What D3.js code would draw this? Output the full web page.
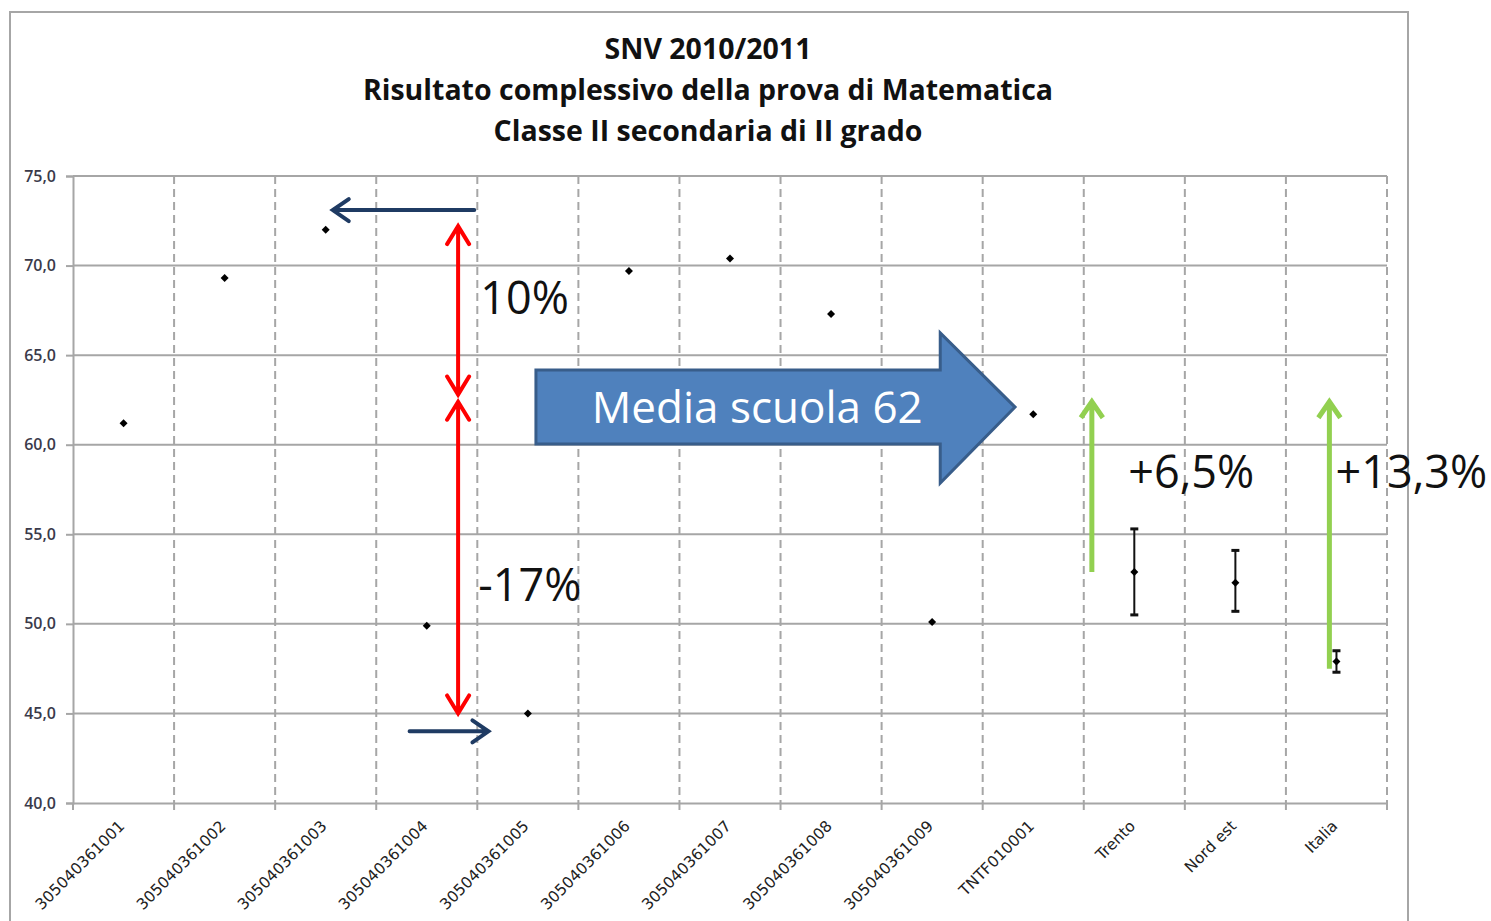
<!DOCTYPE html>
<html>
<head>
<meta charset="utf-8">
<script src="https://cdn.jsdelivr.net/npm/d3@7"></script>
<style>
  body { margin: 0; background: #fff; }
  svg { display: block; }
</style>
</head>
<body>
<svg id="chart"></svg>
<script>
// data
const categories = ["305040361001", "305040361002", "305040361003", "305040361004", "305040361005",
  "305040361006", "305040361007", "305040361008", "305040361009", "TNTF010001", "Trento", "Nord est", "Italia"];
const values = [61.2, 69.3, 72.0, 49.9, 45.0, 69.7, 70.4, 67.3, 50.1, 61.7, 52.9, 52.3, 47.9];
const errLow = [null, null, null, null, null, null, null, null, null, null, 50.5, 50.7, 47.3];
const errHigh = [null, null, null, null, null, null, null, null, null, null, 55.3, 54.1, 48.5];
const yTicks = [40, 45, 50, 55, 60, 65, 70, 75];
const titleLines = ["SNV 2010/2011", "Risultato complessivo della prova di Matematica", "Classe II secondaria di II grado"];

// annotations, x in category units (0..13), y in score units
const navyArrows = [{x1: 3.97, y1: 73.1, x2: 2.57, y2: 73.1}, {x1: 3.33, y1: 44.0, x2: 4.11, y2: 44.0}];
const redArrows = [{x: 3.81, y1: 72.2, y2: 62.8}, {x: 3.81, y1: 62.4, y2: 45.0}];
const greenArrows = [{x: 10.08, y1: 52.9, y2: 62.4}, {x: 12.43, y1: 47.5, y2: 62.4}];
const notes = [
  {text: "10%", x: 4.03, y: 67.3},
  {text: "-17%", x: 4.01, y: 51.3},
  {text: "+6,5%", x: 10.44, y: 57.6},
  {text: "+13,3%", x: 12.49, y: 57.6}
];
const mediaArrow = {x0: 4.58, x1: 8.58, tip: 9.32, top: 64.17, bottom: 60.04, headTop: 66.24, headBottom: 57.86, mid: 62.1};
const mediaLabel = "Media scuola 62";

const W = 1491, H = 921;
const margin = {top: 176, right: 104, bottom: 118, left: 73};

const svg = d3.select("#chart").attr("width", W).attr("height", H);

// outer frame
svg.append("path")
  .attr("d", `M10,${H + 2} L10,12 L1408,12 L1408,${H + 2}`)
  .attr("fill", "none").attr("stroke", "#a6a6a6").attr("stroke-width", 2);

const x = d3.scaleBand().domain(categories).range([margin.left, W - margin.right]);
const xi = d3.scaleLinear().domain([0, categories.length]).range([margin.left, W - margin.right]);
const y = d3.scaleLinear().domain([40, 75]).range([H - margin.bottom, margin.top]);

// title
svg.append("g").selectAll("text").data(titleLines).join("text")
  .attr("x", 708).attr("y", (d, i) => 59 + i * 41)
  .attr("text-anchor", "middle")
  .attr("font-family", "Open Sans").attr("font-weight", "bold").attr("font-size", 28.5)
  .attr("fill", "#111")
  .text(d => d);

// horizontal gridlines
svg.append("g").selectAll("line").data(yTicks.slice(1)).join("line")
  .attr("x1", margin.left).attr("x2", W - margin.right)
  .attr("y1", d => y(d)).attr("y2", d => y(d))
  .attr("stroke", "#a6a6a6").attr("stroke-width", 2);

// vertical dashed gridlines
svg.append("g").selectAll("line").data(categories).join("line")
  .attr("x1", d => x(d) + x.bandwidth()).attr("x2", d => x(d) + x.bandwidth())
  .attr("y1", y(75)).attr("y2", y(40))
  .attr("stroke", "#a6a6a6").attr("stroke-width", 2).attr("stroke-dasharray", "8,5");

// y axis
const yAxis = svg.append("g")
  .attr("transform", `translate(${margin.left},0)`)
  .call(d3.axisLeft(y).tickValues(yTicks).tickSize(7).tickPadding(10)
    .tickFormat(d => d3.format(".1f")(d).replace(".", ",")));
yAxis.selectAll("path, line").attr("stroke", "#a6a6a6").attr("stroke-width", 2);
yAxis.selectAll("text").attr("font-family", "Open Sans").attr("font-size", 16)
  .attr("fill", "#3a3a4a").attr("font-weight", "600");

// x axis
const xAxis = svg.append("g")
  .attr("transform", `translate(0,${y(40)})`)
  .call(d3.axisBottom(x).tickSize(0).tickFormat(""));
xAxis.select("path").attr("stroke", "#a6a6a6").attr("stroke-width", 2);
svg.append("g").selectAll("line").data(d3.range(categories.length + 1)).join("line")
  .attr("x1", d => xi(d)).attr("x2", d => xi(d))
  .attr("y1", y(40)).attr("y2", y(40) + 7)
  .attr("stroke", "#a6a6a6").attr("stroke-width", 2);
svg.append("g").selectAll("text").data(categories).join("text")
  .attr("transform", d => `translate(${x(d) + x.bandwidth() / 2 + 2},${y(40) + 24}) rotate(-45)`)
  .attr("text-anchor", "end")
  .attr("font-family", "DejaVu Sans").attr("font-size", 15.5)
  .attr("fill", "#222")
  .text(d => d);

// error bars
const eb = categories.map((c, i) => ({c, lo: errLow[i], hi: errHigh[i]})).filter(d => d.lo != null);
const ebG = svg.append("g").attr("stroke", "#111").attr("stroke-width", 2);
ebG.selectAll(".v").data(eb).join("line")
  .attr("x1", d => x(d.c) + x.bandwidth() / 2).attr("x2", d => x(d.c) + x.bandwidth() / 2)
  .attr("y1", d => y(d.lo)).attr("y2", d => y(d.hi));
ebG.selectAll(".lo").data(eb).join("line")
  .attr("x1", d => x(d.c) + x.bandwidth() / 2 - 4).attr("x2", d => x(d.c) + x.bandwidth() / 2 + 4)
  .attr("y1", d => y(d.lo)).attr("y2", d => y(d.lo)).attr("stroke-width", 3);
ebG.selectAll(".hi").data(eb).join("line")
  .attr("x1", d => x(d.c) + x.bandwidth() / 2 - 4).attr("x2", d => x(d.c) + x.bandwidth() / 2 + 4)
  .attr("y1", d => y(d.hi)).attr("y2", d => y(d.hi)).attr("stroke-width", 3);

// points (small diamonds)
svg.append("g").selectAll("path").data(categories).join("path")
  .attr("transform", (d, i) => `translate(${x(d) + x.bandwidth() / 2},${y(values[i])})`)
  .attr("d", "M0,-4 L4,0 L0,4 L-4,0 Z")
  .attr("fill", "#000");

// helper: open arrowhead at (px,py) pointing along angle a
function head(px, py, a, len, half) {
  const bx = px - len * Math.cos(a), by = py - len * Math.sin(a);
  const nx = -Math.sin(a) * half, ny = Math.cos(a) * half;
  return `M${bx + nx},${by + ny} L${px},${py} L${bx - nx},${by - ny}`;
}

// navy arrows
const navy = svg.append("g").attr("stroke", "#1f3b63").attr("stroke-width", 4).attr("fill", "none")
  .attr("stroke-linecap", "round");
navyArrows.forEach(a => {
  const X1 = xi(a.x1), Y1 = y(a.y1), X2 = xi(a.x2), Y2 = y(a.y2);
  const ang = Math.atan2(Y2 - Y1, X2 - X1);
  navy.append("path").attr("d", `M${X1},${Y1} L${X2},${Y2} ` + head(X2, Y2, ang, 16, 11));
});

// red double arrows
const red = svg.append("g").attr("stroke", "#ff0000").attr("stroke-width", 4).attr("fill", "none")
  .attr("stroke-linecap", "round");
redArrows.forEach(a => {
  const X = xi(a.x), Y1 = y(a.y1), Y2 = y(a.y2);
  red.append("path").attr("d", `M${X},${Y1} L${X},${Y2} ` + head(X, Y1, -Math.PI / 2, 18, 11) + " " + head(X, Y2, Math.PI / 2, 18, 11));
});

// green arrows
const green = svg.append("g").attr("stroke", "#92d050").attr("stroke-width", 5).attr("fill", "none");
greenArrows.forEach(a => {
  const X = xi(a.x), Y1 = y(a.y1), Y2 = y(a.y2);
  green.append("path").attr("d", `M${X},${Y1} L${X},${Y2} ` + head(X, Y2, -Math.PI / 2, 16, 11));
});

// big blue block arrow
const m = mediaArrow;
const pts = [[m.x0, m.top], [m.x1, m.top], [m.x1, m.headTop], [m.tip, m.mid], [m.x1, m.headBottom],
  [m.x1, m.bottom], [m.x0, m.bottom]].map(p => [xi(p[0]), y(p[1])]);
svg.append("polygon")
  .attr("points", pts.map(p => p.join(",")).join(" "))
  .attr("fill", "#4f81bd").attr("stroke", "#385d8a").attr("stroke-width", 3);
svg.append("text")
  .attr("x", xi(6.77)).attr("y", y(m.mid))
  .attr("dy", "0.36em")
  .attr("text-anchor", "middle")
  .attr("font-family", "Open Sans").attr("font-size", 44)
  .attr("fill", "#fff")
  .text(mediaLabel);

// percentage notes
svg.append("g").selectAll("text").data(notes).join("text")
  .attr("x", d => xi(d.x)).attr("y", d => y(d.y))
  .attr("font-family", "Open Sans").attr("font-size", 45)
  .attr("fill", "#111")
  .text(d => d.text);
</script>
</body>
</html>
